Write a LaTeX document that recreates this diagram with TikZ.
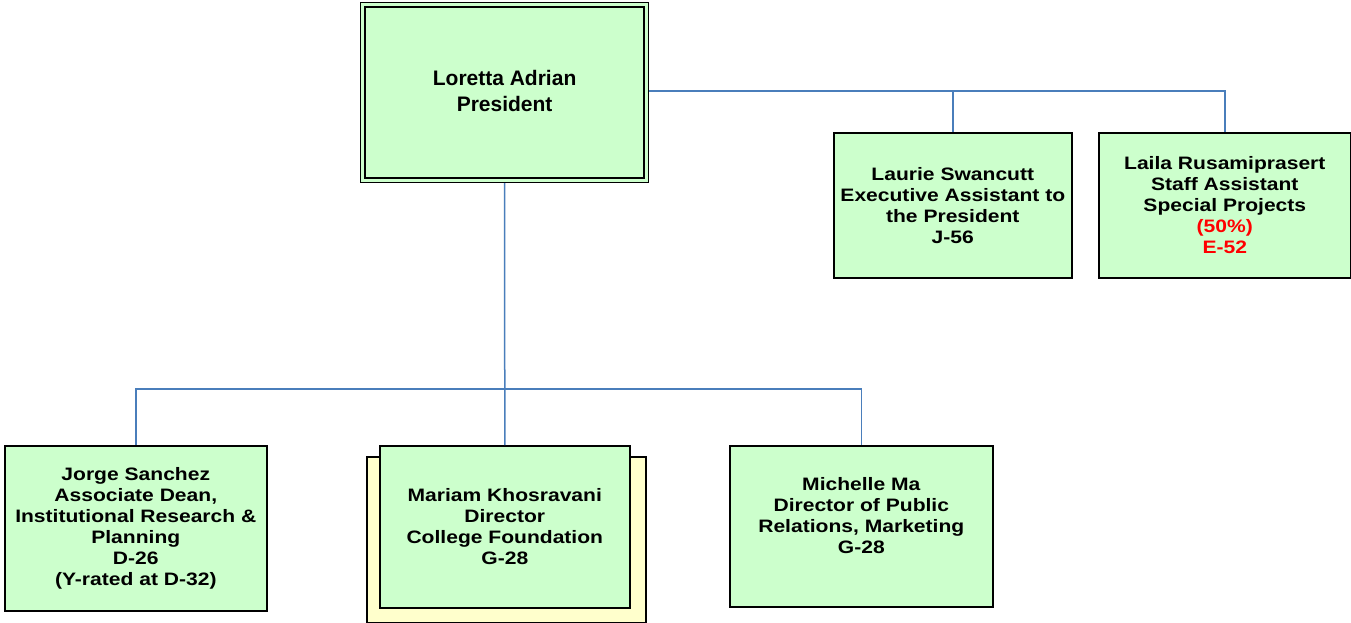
\documentclass[tikz,border=0pt]{standalone}
\usepackage{fontspec}
\setmainfont{Liberation Sans}
\newfontfamily\widefont[FakeStretch=1.17]{Liberation Sans}
\usepackage{tikz}
\usetikzlibrary{positioning}
\definecolor{boxgreen}{HTML}{CCFFCC}
\definecolor{boxyellow}{HTML}{FFFFCC}
\definecolor{linkblue}{HTML}{4A7EBB}

\begin{document}
\begin{tikzpicture}[x=1pt,y=-1pt,
	post/.style={draw=black, line width=1.6pt, fill=boxgreen, align=center,
	inner sep=0pt, anchor=north west, font=\widefont\fontsize{18}{21}\selectfont\bfseries},
	link/.style={draw=linkblue, line width=1.5pt}]
\useasboundingbox (0,0) rectangle (1351,622);
% president
\node [post, line width=1.2pt, minimum width=288pt, minimum height=180pt, text depth=4pt,
	font=\fontsize{21}{26}\selectfont\bfseries] (pres) at (360,2) {Loretta Adrian\\President};
\draw [line width=1.8pt] ([shift={(5,5)}]pres.north west) rectangle ([shift={(-5,-5)}]pres.south east);
% staff
\node [post, minimum width=238pt, minimum height=145pt] (exec) at (833,132)
	{Laurie Swancutt\\Executive Assistant to\\the President\\J-56};
\node [post, minimum width=252pt, minimum height=145pt] (staff) at (1098,132)
	{Laila Rusamiprasert\\Staff Assistant\\Special Projects\\\textcolor{red}{(50\%)}\\\textcolor{red}{E-52}};
% direct reports
\node [post, minimum width=262pt, minimum height=165pt] (dean) at (4,445)
	{Jorge Sanchez\\Associate Dean,\\Institutional Research \&\\Planning\\D-26\\(Y-rated at D-32)};
\node [post, fill=boxyellow, minimum width=279pt, minimum height=166pt] (fback) at (366,456) {};
\node [post, minimum width=250pt, minimum height=162pt] (found) at (379,445)
	{Mariam Khosravani\\Director\\College Foundation\\G-28};
\node [post, minimum width=263pt, minimum height=161pt] (pr) at (729,445)
	{Michelle Ma\\Director of Public\\Relations, Marketing\\G-28\\~};
% connectors
\coordinate (bus) at (pres.south |- 0,389);
\coordinate (tie) at (pres.east |- 0,91);
\draw [link] (tie) -| (staff.north);
\draw [link] (exec.north) |- (tie);
\draw [link] (pres.south) -- (found.north);
\draw [link] (bus) -| (dean.north);
\draw [link] (bus) -| (pr.north);
\end{tikzpicture}
\end{document}
